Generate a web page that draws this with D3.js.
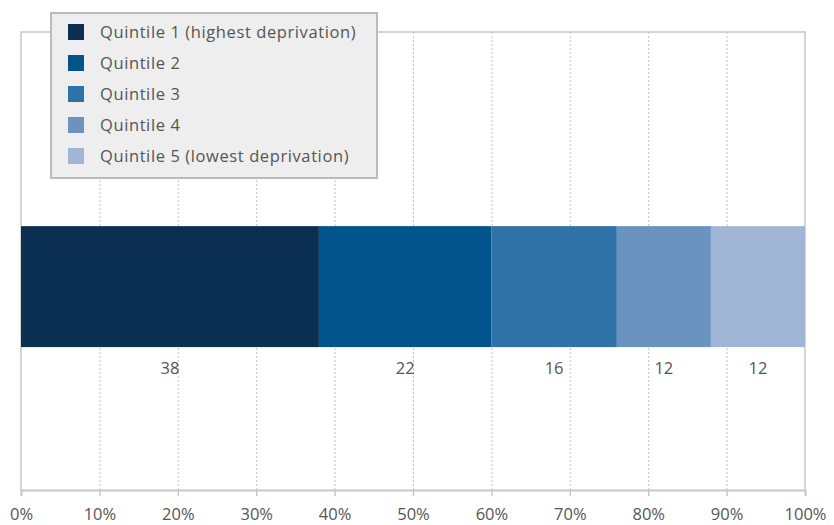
<!DOCTYPE html>
<html><head><meta charset="utf-8">
<script src="https://cdn.jsdelivr.net/npm/d3@7"></script>
<style>body{margin:0;background:#fff}svg{display:block}text{font-family:"Open Sans",sans-serif}</style>
</head><body><svg id="c" width="834" height="525"></svg>
<script>
const categories = ["Quintile 1 (highest deprivation)","Quintile 2","Quintile 3","Quintile 4","Quintile 5 (lowest deprivation)"];
const values = [38,22,16,12,12];
const colors = ["#0b2f51","#02548c","#2e72a7","#6b93bf","#a1b6d6"];
const tickValues = [0,10,20,30,40,50,60,70,80,90,100];

const svg = d3.select("#c");
const L=21,R=805,T=32,B=490;
const x = d3.scaleLinear().domain([0,100]).range([L,R]);
const y = d3.scaleBand().domain(["all"]).range([T,B]).paddingInner(0).paddingOuter(1.393).align(0.576);

// frame
svg.append("path").attr("d",`M${L},${B}V${T}H${R}V${B}`).attr("fill","none").attr("stroke","#c8c8c8").attr("stroke-width",1.5);
// grid
svg.selectAll(".g").data(tickValues.slice(1,-1)).join("line")
 .attr("x1",d=>x(d)+0.5).attr("x2",d=>x(d)+0.5).attr("y1",T).attr("y2",B)
 .attr("stroke","#c4c4c4").attr("stroke-dasharray","2,2");

// stack
let cum=0;
const segs = values.map((v,i)=>{const s={i,v,x0:cum,x1:cum+v};cum+=v;return s;});
const by = y("all"), bh = y.bandwidth();
svg.selectAll(".bar").data(segs).join("rect")
 .attr("x",d=>x(d.x0)).attr("width",d=>x(d.x1)-x(d.x0))
 .attr("y",by).attr("height",bh).attr("fill",d=>colors[d.i]);
svg.selectAll(".lab").data(segs).join("text")
 .attr("x",d=>x((d.x0+d.x1)/2)).attr("y",by+bh+27)
 .attr("text-anchor","middle").attr("font-size",16.5).attr("fill","#555")
 .attr("font-weight",500).text(d=>d.v);

// axis
const ax = svg.append("g").attr("transform",`translate(0,${B})`)
 .call(d3.axisBottom(x).tickValues(tickValues).tickFormat(d=>d+"%").tickSize(6).tickPadding(12));
ax.select(".domain").attr("stroke","#c8c8c8").attr("stroke-width",2);
ax.selectAll(".tick line").attr("stroke","#c8c8c8").attr("stroke-width",1.5);
ax.selectAll(".tick text").attr("font-size",16.5).attr("fill","#555").attr("font-weight",500)
 .attr("font-family","'Open Sans',sans-serif");

// legend
const lg = svg.append("g");
lg.append("rect").attr("x",51).attr("y",13).attr("width",326).attr("height",165)
 .attr("fill","#eeeeee").attr("stroke","#bbbbbb").attr("stroke-width",2);
const rows = lg.selectAll(".r").data(categories).join("g")
 .attr("transform",(d,i)=>`translate(0,${32+i*31})`);
rows.append("rect").attr("x",68).attr("y",-8).attr("width",16).attr("height",16).attr("fill",(d,i)=>colors[i]);
rows.append("text").attr("x",100).attr("y",0).attr("dy","0.35em").attr("font-size",16.5)
 .attr("letter-spacing",0.6).attr("font-weight",500).attr("fill","#555").text(d=>d);
</script></body></html>
